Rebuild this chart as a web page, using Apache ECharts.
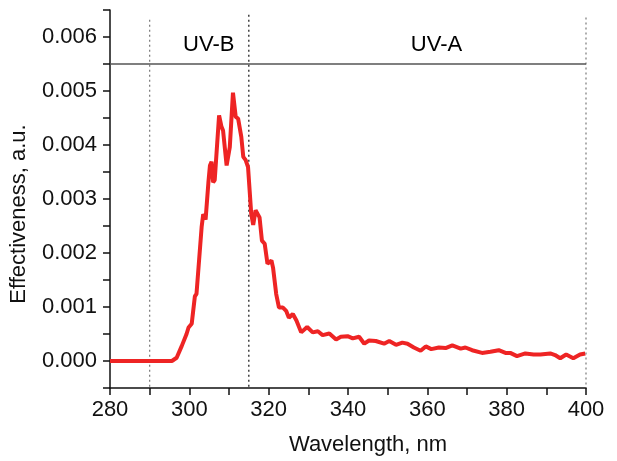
<!DOCTYPE html>
<html>
<head>
<meta charset="utf-8">
<script src="https://cdn.jsdelivr.net/npm/echarts@6/dist/echarts.min.js"></script>
<style>
  html, body { margin: 0; padding: 0; background: #fff; }
  #chart { width: 617px; height: 461px; }
</style>
</head>
<body>
<div id="chart"></div>
<script>
// Action spectrum: wavelength (nm) and relative effectiveness
const wavelengths = [
  280, 285, 290, 295, 295.6, 296.8, 298.1, 299.3, 299.8, 300.6, 301.4, 301.8,
  303.1, 303.5, 304.1, 304.8, 305.2, 305.6, 306.0, 306.4, 307.5, 308.1, 308.5,
  309.4, 309.8, 310.2, 311.0, 311.7, 312.3, 313.1, 313.6, 314.2, 314.8, 315.2,
  315.6, 316.1, 316.7, 317.2, 317.7, 318.3, 319.0, 319.7, 320.2, 320.7, 321.1,
  321.9, 322.6, 323.6, 324.4, 325.1, 326.1, 327.0, 328.2, 329.7, 331.1, 332.4,
  333.6, 335.3, 337.0, 338.2, 339.9, 341.2, 342.8, 344.1, 345.3, 347.0, 349.1,
  350.4, 352.1, 353.7, 355.0, 356.6, 358.3, 359.6, 361.0, 362.9, 364.6, 366.3,
  368.4, 369.6, 371.3, 373.8, 375.9, 378.0, 379.7, 380.9, 382.6, 384.7, 386.8,
  388.5, 391.0, 392.2, 393.5, 395.0, 396.8, 398.5, 399.8
];
const effectiveness = [
  0, 0, 0, 0, 0, 0.00006, 0.00028, 0.0005, 0.00062, 0.00069, 0.0012, 0.00124,
  0.00248, 0.00272, 0.00262, 0.0033, 0.00362, 0.00369, 0.00331, 0.00335, 0.00455, 0.00434, 0.00427,
  0.00362, 0.00359, 0.00396, 0.00497, 0.00452, 0.00449, 0.00415, 0.00378, 0.00372, 0.00359, 0.00316,
  0.00273, 0.00252, 0.00279, 0.00279, 0.00266, 0.00223, 0.00217, 0.0018, 0.00177, 0.00186, 0.00173,
  0.00124, 0.00099, 0.00099, 0.00093, 0.0008, 0.00087, 0.00075, 0.00053, 0.00063, 0.00053, 0.00055,
  0.00048, 0.00051, 0.0004, 0.00045, 0.00046, 0.00042, 0.00045, 0.00032, 0.00038, 0.00037, 0.00032,
  0.00037, 0.0003, 0.00034, 0.00032, 0.00025, 0.00019, 0.00027, 0.00022, 0.00025, 0.00024, 0.00029,
  0.00023, 0.00025, 0.0002, 0.00015, 0.00017, 0.0002, 0.00015, 0.00015, 0.00009, 0.00014, 0.00012,
  0.00012, 0.00014, 0.00011, 0.00005, 0.00012, 0.00005, 0.00012, 0.00014
];

// Band limits and labels
const bandEdges = [290, 315, 400];
const bandLabels = ['UV-B', 'UV-A'];
const bandLabelX = [304.9, 362.3];
const bandLabelY = 0.00585;
const bandLevel = 0.0055;

const FONT = 'Liberation Sans, Arial, sans-serif';
const series = [];

series.push({
  type: 'line',
  data: wavelengths.map((w, i) => [w, effectiveness[i]]),
  showSymbol: false,
  lineStyle: { color: '#ee2424', width: 4 },
  z: 5
});

// Horizontal band separator
series.push({
  type: 'line',
  data: [[280, bandLevel], [400, bandLevel]],
  showSymbol: false,
  lineStyle: { color: '#555', width: 1.5 },
  z: 3
});

// Vertical band edges
const edgeTops = [0.00632, 0.00641, 0.00636];
const edgeColors = ['#777', '#111', '#777'];
bandEdges.forEach((e, i) => {
  series.push({
    type: 'line',
    data: [[e, edgeTops[i]], [e, -0.0005]],
    showSymbol: false,
    lineStyle: { color: edgeColors[i], width: 1.2, type: [2, 3] },
    z: 2
  });
});

// Band labels
series.push({
  type: 'scatter',
  data: bandLabels.map((t, i) => ({ value: [bandLabelX[i], bandLabelY], name: t })),
  symbolSize: 0,
  itemStyle: { opacity: 1 },
  label: {
    show: true, position: 'inside',
    formatter: p => p.name,
    color: '#000', fontSize: 22, fontFamily: FONT
  },
  z: 6
});

const chart = echarts.init(document.getElementById('chart'), null, { renderer: 'canvas' });
chart.setOption({
  animation: false,
  backgroundColor: '#fff',
  grid: { left: 108, right: 31, top: 10, bottom: 73 },
  xAxis: {
    type: 'value', min: 280, max: 400, interval: 10,
    name: 'Wavelength, nm', nameLocation: 'middle', nameGap: 46,
    nameTextStyle: { fontSize: 22, color: '#111', fontFamily: FONT, padding: [0, 0, 0, 40] },
    axisLine: { onZero: false, lineStyle: { color: '#111', width: 1.5 } },
    axisTick: { length: 7, lineStyle: { color: '#111', width: 1.5 } },
    axisLabel: {
      fontSize: 22, color: '#111', fontFamily: FONT, margin: 11,
      formatter: v => (Math.round(v) % 20 === 0 ? String(Math.round(v)) : '')
    },
    splitLine: { show: false }
  },
  yAxis: {
    type: 'value', min: -0.0005, max: 0.0065, interval: 0.0005,
    name: 'Effectiveness, a.u.', nameLocation: 'middle', nameGap: 80,
    nameTextStyle: { fontSize: 22, color: '#111', fontFamily: FONT, padding: [0, 30, 0, 0] },
    axisLine: { onZero: false, lineStyle: { color: '#111', width: 1.5 } },
    axisTick: { length: 7, lineStyle: { color: '#111', width: 1.5 } },
    axisLabel: {
      fontSize: 22, color: '#111', fontFamily: FONT, margin: 13,
      formatter: v => {
        const k = v * 1000;
        if (v < -1e-9 || Math.abs(k - Math.round(k)) > 1e-6) return '';
        return (Math.round(k) / 1000).toFixed(3);
      }
    },
    splitLine: { show: false }
  },
  series: series
});
</script>
</body>
</html>
